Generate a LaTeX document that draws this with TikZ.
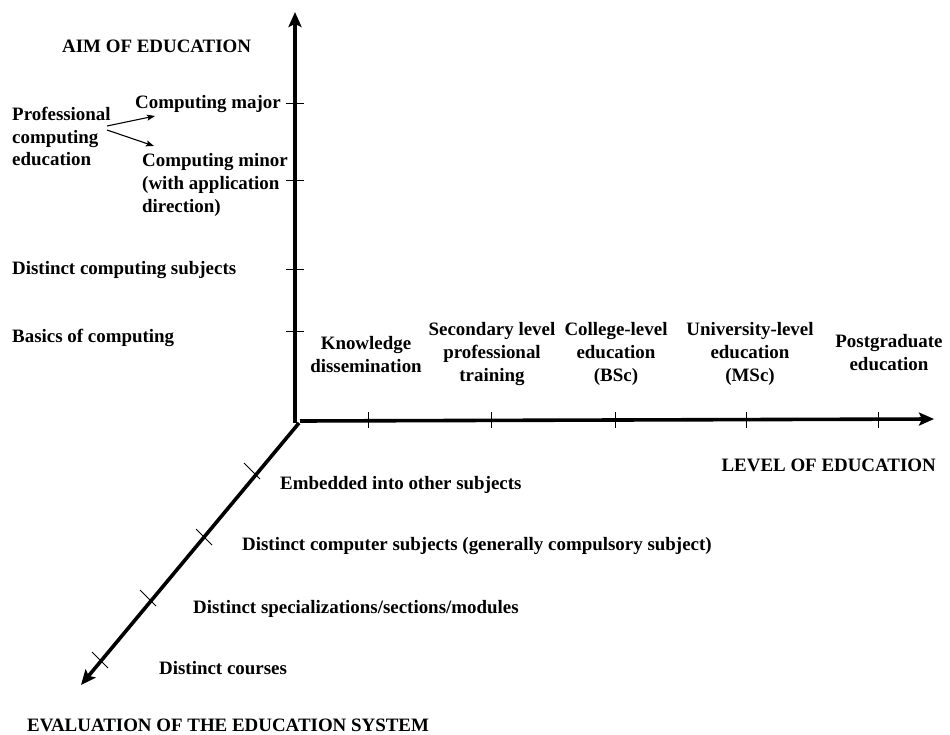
\documentclass[tikz,border=0pt]{standalone}
\usepackage{fontspec}
\setmainfont{Liberation Serif}
\usetikzlibrary{arrows.meta}
\begin{document}
\begin{tikzpicture}[x=1bp,y=-1bp,
  lbl/.style={font=\bfseries\fontsize{19}{23}\selectfont, inner sep=0pt},
  axisline/.style={line width=3.6bp, -{Stealth[length=15bp,width=13bp,inset=3bp]}},
  tickline/.style={line width=0.8bp},
  smallarrow/.style={line width=1.1bp, -{Stealth[length=8bp,width=6bp,inset=1.5bp]}}
]
\useasboundingbox (0,0) rectangle (950,735);

% axes
\coordinate (O) at (296,421);
\coordinate (Ytop) at (295,12);
\coordinate (Xend) at (934,419);
\coordinate (Zend) at (81,685);
\coordinate (Ybot) at (295,423);
\coordinate (Xbeg) at (300,421);
\coordinate (Zbeg) at (299,423);
\draw[axisline] (Ybot) -- (Ytop);
\draw[axisline] (Xbeg) -- (Xend);
\draw[axisline] (Zbeg) -- (Zend);

% ticks on vertical axis
\foreach \n/\y in {a/103,b/180,c/269,d/331}{
  \coordinate (ty\n) at (295,\y);
  \draw[tickline] (ty\n) +(-9,0) -- +(9,0);
}
% ticks on horizontal axis
\foreach \n/\x in {a/368,b/491,c/615,d/746,e/878}{
  \coordinate (tx\n) at (\x,420);
  \draw[tickline] (tx\n) +(0,-8) -- +(0,8);
}
% ticks on diagonal axis
\foreach \n/\x/\y in {a/252/471,b/204/537,c/148/598,d/100/660}{
  \coordinate (tz\n) at (\x,\y);
  \draw[tickline] (tz\n) +(-8,-8) -- +(8,8);
}

% vertical axis labels
\node[lbl, anchor=base west] (aim) at (62,53) {AIM OF EDUCATION};
\node[lbl, anchor=base west, align=left] (prof) at (12,166) {Professional\\computing\\education};
\node[lbl, anchor=base west] (major) at (135,109) {Computing major};
\node[lbl, anchor=base west, align=left] (minor) at (142,212) {Computing minor\\(with application\\direction)};
\node[lbl, anchor=base west] (dcs) at (12,274) {Distinct computing subjects};
\node[lbl, anchor=base west] (boc) at (12,342) {Basics of computing};

\coordinate (pa) at (107,126);
\coordinate (pb) at (107,130);
\coordinate (ma) at (155,116);
\coordinate (mb) at (154,146);
\draw[smallarrow] (pa) -- (ma);
\draw[smallarrow] (pb) -- (mb);

% horizontal axis labels
\node[lbl, anchor=base, align=center] (kd) at (366,372) {Knowledge\\dissemination};
\node[lbl, anchor=base, align=center] (slp) at (492,381) {Secondary level\\professional\\training};
\node[lbl, anchor=base, align=center] (cle) at (616,381) {College-level\\education\\(BSc)};
\node[lbl, anchor=base, align=center] (ule) at (750,381) {University-level\\education\\(MSc)};
\node[lbl, anchor=base, align=center] (pge) at (889,370) {Postgraduate\\education};
\node[lbl, anchor=base east] (level) at (936,471) {LEVEL OF EDUCATION};

% diagonal axis labels
\node[lbl, anchor=base west] (emb) at (280,489) {Embedded into other subjects};
\node[lbl, anchor=base west] (dcomp) at (242,550) {Distinct computer subjects (generally compulsory subject)};
\node[lbl, anchor=base west] (dspec) at (193,613) {Distinct specializations/sections/modules};
\node[lbl, anchor=base west] (dcour) at (159,674) {Distinct courses};
\node[lbl, anchor=base west] (eval) at (27,731) {EVALUATION OF THE EDUCATION SYSTEM};
\end{tikzpicture}
\end{document}
